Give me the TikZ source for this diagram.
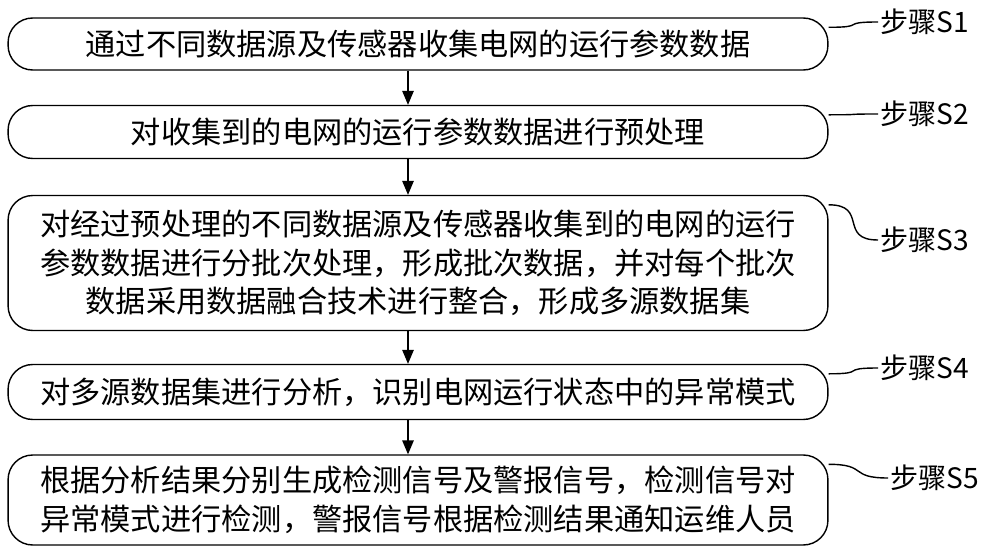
\documentclass[tikz,border=0pt]{standalone}
\usepackage{fontspec}
\setmainfont{Liberation Serif}
\newfontfamily\cjk{Noto Sans CJK SC}
\usetikzlibrary{positioning, arrows}
\tikzset{
	>=triangle 45, % punta de flecha llena
	x=0.02cm, y=-0.02cm, % un pixel de la referencia
	stepbox/.style={draw, thick, rounded corners=14pt, minimum width=16.4cm, align=center, font=\cjk\fontsize{17.2}{22}\selectfont, inner sep=2pt}, % cajas de pasos
	steplabel/.style={font=\cjk\fontsize{16}{20}\selectfont, anchor=west, inner sep=1pt} % rotulos de pasos
}
\begin{document}
\begin{tikzpicture}
				\useasboundingbox (0,0) rectangle (1000,557);
				\node[stepbox, minimum height=1.04cm] (s1) at (418,44) {通过不同数据源及传感器收集电网的运行参数数据};
				\node[stepbox, minimum height=1.06cm] (s2) at (418,132) {对收集到的电网的运行参数数据进行预处理};
				\node[stepbox, minimum height=2.7cm] (s3) at (418,263) {对经过预处理的不同数据源及传感器收集到的电网的运行\\参数数据进行分批次处理，形成批次数据，并对每个批次\\数据采用数据融合技术进行整合，形成多源数据集};
				\node[stepbox, minimum height=1.1cm] (s4) at (418,392) {对多源数据集进行分析，识别电网运行状态中的异常模式};
				\node[stepbox, minimum height=1.8cm] (s5) at (418,500) {根据分析结果分别生成检测信号及警报信号，检测信号对\\异常模式进行检测，警报信号根据检测结果通知运维人员};
				\node[steplabel] (l1) at (878,22) {步骤S1};
				\node[steplabel] (l2) at (878,114) {步骤S2};
				\node[steplabel] (l3) at (878,240) {步骤S3};
				\node[steplabel] (l4) at (878,368) {步骤S4};
				\node[steplabel] (l5) at (888,478) {步骤S5};
				\foreach \a/\b in {s1/s2, s2/s3, s3/s4, s4/s5}
					\draw[->, thick] (\a.south -| 408,0) -- (\b.north -| 408,0);
				\foreach \s/\l in {s1/l1, s2/l2, s3/l3, s4/l4, s5/l5}
					\draw[thick] ([yshift=-0.2cm]\s.north east) .. controls +(0.8cm,0) and +(-0.8cm,0) .. (\l.west);
			\end{tikzpicture}
\end{document}
